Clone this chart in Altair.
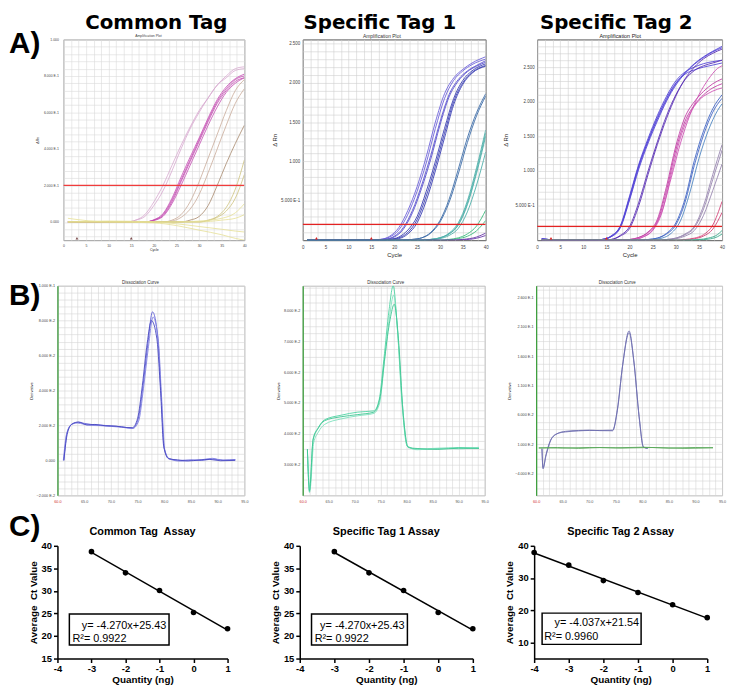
import altair as alt
import pandas as pd

FONT = "Liberation Sans"
HEAD_FONT = "DejaVu Sans"

# ------------------------------------------------------------------
# DATA
# ------------------------------------------------------------------
THRESHOLD = 0.2
BASELINE_MARKS = [3, 15]

# ---- A) amplification plots : knot cycles + delta-Rn values per curve ----
A1_MAUVE_CYC = [1, 14, 16, 18, 20, 22, 24, 26, 28, 30, 32, 34, 36, 38, 40]
A1_MAUVE = [[0, 0, 0.01, 0.04, 0.11, 0.2, 0.31, 0.42, 0.52, 0.61, 0.68, 0.75, 0.79, 0.83, 0.84],
            [0, 0, 0.01, 0.03, 0.09, 0.17, 0.28, 0.40, 0.51, 0.60, 0.68, 0.75, 0.80, 0.84, 0.85]]
A1_MAG_CYC = [1, 18, 20, 22, 24, 26, 28, 30, 32, 34, 36, 38, 40]
A1_MAG = [[0, 0, 0.01, 0.04, 0.12, 0.23, 0.34, 0.45, 0.56, 0.66, 0.73, 0.78, 0.80],
          [0, 0, 0.01, 0.035, 0.11, 0.22, 0.33, 0.44, 0.55, 0.65, 0.72, 0.77, 0.79],
          [0, 0, 0.012, 0.045, 0.13, 0.245, 0.355, 0.46, 0.57, 0.67, 0.74, 0.785, 0.81],
          [0, 0, 0.008, 0.03, 0.10, 0.20, 0.31, 0.42, 0.53, 0.63, 0.71, 0.76, 0.79]]
A1_TAN_CYC = [1, 22, 24, 26, 28, 30, 32, 34, 36, 38, 40]
A1_TAN = [[0, 0, 0.01, 0.04, 0.11, 0.22, 0.35, 0.48, 0.61, 0.72, 0.78],
          [0, 0, 0.005, 0.025, 0.07, 0.15, 0.27, 0.40, 0.53, 0.65, 0.73]]
A1_BROWN_CYC = [1, 26, 28, 30, 32, 34, 36, 38, 40]
A1_BROWN = [[0, 0, 0.01, 0.03, 0.09, 0.2, 0.32, 0.43, 0.53]]
A1_OLIVE_CYC = [1, 30, 32, 34, 36, 38, 40]
A1_OLIVE = [[0, 0, 0.01, 0.03, 0.08, 0.18, 0.34],
            [0, 0, 0.008, 0.025, 0.06, 0.13, 0.26]]
A1_YELLOW_CYC = [1, 10, 20, 25, 30, 35, 38, 40]
A1_YELLOW = [[0.02, 0, 0, 0, 0.005, 0.02, 0.05, 0.10],
             [0, 0, 0, 0, 0, 0.01, 0.02, 0.04],
             [0, 0.005, 0, -0.01, -0.025, -0.04, -0.05, -0.055],
             [0, 0, -0.005, -0.02, -0.045, -0.07, -0.09, -0.10]]

A2_G1_CYC = [1, 15, 17, 19, 21, 23, 25, 27, 29, 31, 33, 35, 37, 40]
A2_G1 = [[0, 0, 0.01, 0.05, 0.16, 0.38, 0.68, 1.06, 1.50, 1.86, 2.06, 2.17, 2.25, 2.33],
         [0, 0, 0.01, 0.04, 0.13, 0.33, 0.62, 0.98, 1.42, 1.80, 2.03, 2.15, 2.23, 2.30]]
A2_G1B_CYC = [1, 16, 18, 20, 22, 24, 26, 28, 30, 32, 34, 36, 38, 40]
A2_G1B = [[0, 0, 0.01, 0.05, 0.16, 0.38, 0.70, 1.08, 1.50, 1.85, 2.04, 2.15, 2.22, 2.28],
          [0, 0, 0.01, 0.04, 0.14, 0.35, 0.66, 1.03, 1.46, 1.82, 2.02, 2.14, 2.21, 2.26]]
A2_G2_CYC = [1, 17, 19, 21, 23, 25, 27, 29, 31, 33, 35, 37, 40]
A2_G2 = [[0, 0, 0.01, 0.04, 0.13, 0.30, 0.62, 1.00, 1.42, 1.80, 2.03, 2.15, 2.24],
         [0, 0, 0.01, 0.03, 0.10, 0.26, 0.56, 0.94, 1.36, 1.76, 2.00, 2.13, 2.22],
         [0, 0, 0.005, 0.02, 0.08, 0.22, 0.50, 0.88, 1.30, 1.72, 1.98, 2.12, 2.21]]
A2_STEEL_CYC = [1, 22, 24, 26, 28, 30, 32, 34, 36, 38, 40]
A2_STEEL = [[0, 0, 0.01, 0.03, 0.10, 0.25, 0.52, 0.90, 1.30, 1.62, 1.86],
            [0, 0, 0.01, 0.03, 0.09, 0.23, 0.48, 0.84, 1.24, 1.58, 1.83]]
A2_TEAL_CYC = [1, 26, 28, 30, 32, 34, 36, 38, 40]
A2_TEAL = [[0, 0, 0.01, 0.03, 0.09, 0.22, 0.50, 0.92, 1.40],
           [0, 0, 0.01, 0.03, 0.08, 0.19, 0.45, 0.85, 1.32],
           [0, 0, 0.01, 0.03, 0.08, 0.20, 0.47, 0.88, 1.36],
           [0, 0, 0.005, 0.02, 0.06, 0.15, 0.36, 0.70, 1.12]]
A2_GREEN_CYC = [1, 30, 32, 34, 36, 38, 40]
A2_GREEN = [[0, 0, 0.01, 0.03, 0.08, 0.18, 0.38],
            [0, 0, 0.005, 0.02, 0.05, 0.12, 0.25]]
A2_PURPLE_CYC = [1, 32, 35, 38, 40]
A2_PURPLE = [[0, 0, 0.01, 0.04, 0.09],
             [0, 0, 0.005, 0.025, 0.06]]

A3_G1_CYC = [1, 5, 12, 14, 16, 18, 20, 22, 24, 26, 28, 30, 32, 34, 36, 38, 40]
A3_G1 = [[0.02, 0, 0, 0.01, 0.06, 0.20, 0.62, 1.08, 1.43, 1.75, 2.03, 2.26, 2.42, 2.55, 2.65, 2.73, 2.80],
         [0.02, 0, 0, 0.01, 0.05, 0.18, 0.58, 1.03, 1.40, 1.72, 2.01, 2.24, 2.41, 2.54, 2.64, 2.72, 2.78],
         [0.02, 0, 0, 0.01, 0.06, 0.21, 0.64, 1.10, 1.47, 1.80, 2.08, 2.30, 2.43, 2.50, 2.55, 2.58, 2.60],
         [0.02, 0, 0, 0.01, 0.05, 0.19, 0.60, 1.06, 1.44, 1.77, 2.05, 2.27, 2.40, 2.46, 2.50, 2.53, 2.56]]
A3_G2_CYC = [1, 14, 16, 18, 20, 22, 24, 26, 28, 30, 32, 34, 36, 38, 40]
A3_G2 = [[0, 0, 0.01, 0.06, 0.17, 0.50, 0.95, 1.38, 1.76, 2.08, 2.33, 2.50, 2.62, 2.70, 2.76],
         [0, 0, 0.01, 0.07, 0.20, 0.55, 1.00, 1.42, 1.80, 2.10, 2.32, 2.45, 2.52, 2.56, 2.60]]
A3_MAG_CYC = [1, 18, 20, 22, 24, 26, 28, 30, 32, 34, 36, 38, 40]
A3_MAG = [[0, 0, 0.01, 0.04, 0.12, 0.30, 0.78, 1.36, 1.78, 2.00, 2.15, 2.26, 2.33],
          [0, 0, 0.01, 0.04, 0.11, 0.27, 0.72, 1.30, 1.72, 1.95, 2.10, 2.20, 2.26]]
A3_MAG2_CYC = [1, 19, 21, 23, 25, 27, 29, 31, 33, 35, 37, 39, 40]
A3_MAG2 = [[0, 0, 0.01, 0.05, 0.14, 0.40, 0.95, 1.48, 1.82, 2.02, 2.12, 2.18, 2.20],
           [0, 0, 0.01, 0.05, 0.15, 0.42, 0.90, 1.40, 1.80, 2.10, 2.32, 2.48, 2.52]]
A3_STEEL_CYC = [1, 22, 24, 26, 28, 30, 32, 34, 36, 38, 40]
A3_STEEL = [[0, 0, 0.01, 0.03, 0.10, 0.25, 0.60, 1.15, 1.58, 1.90, 2.10],
            [0, 0, 0.01, 0.03, 0.09, 0.22, 0.55, 1.08, 1.52, 1.85, 2.05]]
A3_STEEL2_CYC = [1, 23, 25, 27, 29, 31, 33, 35, 37, 39, 40]
A3_STEEL2 = [[0, 0, 0.01, 0.03, 0.10, 0.28, 0.68, 1.18, 1.58, 1.87, 1.97]]
A3_GREY_CYC = [1, 26, 28, 30, 32, 34, 36, 38, 40]
A3_GREY = [[0, 0, 0.01, 0.03, 0.09, 0.20, 0.50, 0.95, 1.38],
           [0, 0, 0.01, 0.03, 0.08, 0.18, 0.45, 0.88, 1.30],
           [0, 0, 0.005, 0.02, 0.06, 0.14, 0.36, 0.72, 1.10]]
A3_PINK_CYC = [1, 30, 32, 34, 36, 38, 40]
A3_PINK = [[0, 0, 0.01, 0.03, 0.08, 0.22, 0.56],
           [0, 0, 0.005, 0.02, 0.06, 0.16, 0.40]]
A3_TEAL_CYC = [1, 32, 35, 37, 39, 40]
A3_TEAL = [[0, 0, 0.01, 0.03, 0.08, 0.14],
           [0, 0, 0.005, 0.015, 0.05, 0.09]]

# ---- B) dissociation curves : temperature + derivative per curve ----
B1_T = [[61.2, 61.8, 62.7, 63.9, 65, 66.5, 68, 70, 72, 74.1, 75.1, 76, 76.9, 77.8, 78.8, 79.4, 80, 80.9, 83, 85, 87, 89, 91, 93.3],
        [61.1, 61.7, 62.6, 63.7, 65, 66.5, 68, 70, 72, 74.1, 75.2, 76.1, 77, 77.9, 78.9, 79.5, 80.1, 81, 83, 85, 87, 89, 91, 93.3],
        [61.2, 61.9, 62.8, 64, 65.5, 67, 69, 71, 73, 74, 75, 75.9, 76.8, 77.6, 78.6, 79.3, 79.9, 80.8, 82.5, 84.5, 86.5, 88.5, 90.5, 93.3]]
B1_V = [[0.0, 0.0157, 0.0207, 0.0218, 0.0212, 0.0205, 0.0202, 0.0198, 0.0192, 0.0185, 0.0235, 0.042, 0.066, 0.085, 0.070, 0.038, 0.0068, 0.001, 0.0, 0.0003, 0.0, 0.0008, 0.0002, 0.0005],
        [0.0, 0.015, 0.0205, 0.0214, 0.0207, 0.0200, 0.0199, 0.0195, 0.0190, 0.0183, 0.0225, 0.041, 0.064, 0.082, 0.068, 0.036, 0.006, 0.0008, -0.0004, 0.0, 0.0004, 0.0012, 0.0, 0.0004],
        [0.0, 0.016, 0.021, 0.022, 0.0203, 0.0206, 0.0198, 0.0196, 0.0188, 0.0187, 0.024, 0.043, 0.067, 0.080, 0.070, 0.040, 0.008, 0.001, 0.0003, -0.0003, 0.0002, 0.0006, -0.0002, 0.0]]
B2_T = [[60.9, 61.3, 62.0, 63, 64.2, 67.4, 70.6, 73.7, 74.7, 75.6, 76.6, 77.4, 78.2, 79.1, 80.1, 82, 86, 90, 93.9],
        [60.9, 61.4, 62.1, 63, 64.2, 67.4, 70.6, 73.7, 74.8, 75.7, 76.7, 77.5, 78.3, 79.2, 80.2, 82, 86, 90, 93.9],
        [60.9, 61.3, 62.0, 63, 64.2, 67.4, 70.6, 73.7, 74.9, 75.8, 76.8, 77.6, 78.4, 79.3, 80.3, 82, 86, 90, 93.9]]
B2_V = [[0.035, 0.021, 0.0383, 0.042, 0.0445, 0.046, 0.047, 0.0474, 0.051, 0.064, 0.080, 0.088, 0.0743, 0.050, 0.036, 0.035, 0.0352, 0.0355, 0.0354],
        [0.034, 0.022, 0.037, 0.0405, 0.043, 0.0448, 0.0458, 0.0466, 0.050, 0.063, 0.078, 0.085, 0.072, 0.049, 0.0358, 0.0348, 0.0353, 0.0351, 0.0356],
        [0.035, 0.0215, 0.038, 0.0418, 0.0442, 0.0455, 0.0462, 0.047, 0.052, 0.065, 0.077, 0.082, 0.071, 0.047, 0.0355, 0.0352, 0.0349, 0.0353, 0.0352]]
B3_T = [[61.1, 61.3, 61.8, 62.9, 64, 65.5, 68, 70, 72, 74.4, 75.3, 76.3, 77.5, 78.4, 79.4, 80.2, 81],
        [61.1, 61.3, 61.9, 63, 64.2, 65.5, 68, 70, 72, 74.4, 75.3, 76.3, 77.5, 78.4, 79.4, 80.2, 81]]
B3_V = [[0.002, -0.032, -0.01, 0.02, 0.028, 0.032, 0.0335, 0.034, 0.0332, 0.033, 0.068, 0.146, 0.203, 0.152, 0.057, 0.0055, 0.003],
        [0.003, -0.030, -0.008, 0.021, 0.029, 0.031, 0.0328, 0.0335, 0.0335, 0.034, 0.070, 0.145, 0.200, 0.150, 0.055, 0.005, 0.003]]
B3_NTC_T = [[60.5, 65, 70, 75, 80, 85, 90, 93.3],
            [60.5, 64, 68, 72, 76, 82, 88, 93.3]]
B3_NTC_V = [[0.004, 0.0035, 0.0045, 0.004, 0.005, 0.0035, 0.0045, 0.004],
            [0.0035, 0.0045, 0.003, 0.0045, 0.0035, 0.0045, 0.003, 0.0042]]

# ---- C) standard curves ----
C_QTY_TICKS = [-4, -3, -2, -1, 0, 1]
C1_Q = [-3, -2, -1, 0, 1]
C1_CT = [38.7, 34.0, 30.1, 25.2, 21.6]
C2_Q = [-3, -2, -1, 0, 1]
C2_CT = [38.7, 34.0, 30.1, 25.2, 21.6]
C3_Q = [-4, -3, -2, -1, 0, 1]
C3_CT = [37.9, 34.0, 29.2, 25.5, 21.7, 17.7]
C1_EQ = ["y= -4.270x+25.43", "R\u00b2= 0.9922"]
C2_EQ = ["y= -4.270x+25.43", "R\u00b2= 0.9922"]
C3_EQ = ["y= -4.037x+21.54", "R\u00b2= 0.9960"]
# equation box corners and text anchors, in data units (qty, Ct)
C1_BOX = [-3.65, -0.72, 18.0, 24.9]
C2_BOX = [-3.66, -0.89, 18.0, 24.9]
C3_BOX = [-3.77, -0.91, 9.4, 19.1]
C1_TXT = [(-0.80, 21.6), (-3.56, 18.7)]
C2_TXT = [(-0.97, 21.6), (-3.57, 18.7)]
C3_TXT = [(-0.97, 15.0), (-3.71, 10.9)]

# ------------------------------------------------------------------
ONE = pd.DataFrame({"a": [0]})


def steps(a, b, s):
    n = int(round((b - a) / s))
    return [round(a + i * s, 6) for i in range(n + 1)]


def major(step, off=0.0):
    return (f"abs((datum.value - ({off})) / {step} - round((datum.value - ({off})) / {step})) < 0.01")


SCI = ("(datum.value == 0 ? '0.000' : (abs(datum.value) >= 1 ? format(datum.value, '.3f') : "
       "(abs(datum.value) >= 0.1 ? format(datum.value * 10, '.3f') + ' E-1' : "
       "format(datum.value * 100, '.3f') + ' E-2')))")


def curves_df(groups):
    rows = []
    cid = 0
    for color, xs_list, vs_list in groups:
        for xs, vs in zip(xs_list, vs_list):
            for x, v in zip(xs, vs):
                rows.append({"x": x, "y": v, "id": cid, "col": color})
            cid += 1
    return pd.DataFrame(rows)


def txt(text, x, y, size, weight="normal", align="center", color="black", font=FONT):
    return alt.Chart(ONE).mark_text(text=text, fontSize=size, fontWeight=weight, align=align,
                                    color=color, font=font, baseline="alphabetic").encode(
        x=alt.value(x), y=alt.value(y))


def spacer(w, h):
    return alt.Chart(ONE).mark_point(opacity=0, size=1).encode(
        x=alt.value(0), y=alt.value(0)).properties(
        width=w, height=h, view=alt.ViewBackground(stroke="transparent"))


def qpcr_panel(groups, w, h, xdom, xgrid, xfmt, ydom, ygrid, ymajor, ymajor_off, ytitle, xtitle,
               frame, gridc, lab, ttl, lpx, tpx, lpy, tpy, lw=0.9, ydomain_color=None,
               xlabel_color="#444", thr=None, marks=None, extra=()):
    df = curves_df(groups)
    xax = alt.Axis(values=xgrid, labelExpr=f"{major(5)} ? format(datum.value, '{xfmt}') : ''",
                   grid=True, gridColor=gridc, gridWidth=0.6, ticks=False, domain=False,
                   labelFontSize=lab, labelColor=xlabel_color, labelFont=FONT, labelOverlap=False,
                   labelFlush=False, labelPadding=lpx, title=xtitle, titleFontSize=ttl,
                   titleFontWeight="normal", titleColor="#222", titlePadding=tpx, titleFont=FONT)
    yargs = dict(values=ygrid, labelExpr=f"{major(ymajor, ymajor_off)} ? {SCI} : ''",
                 grid=True, gridColor=gridc, gridWidth=0.6, ticks=False,
                 labelFontSize=lab, labelColor="#444", labelFont=FONT, labelOverlap=False,
                 labelFlush=False, labelPadding=lpy, title=ytitle, titleFontSize=ttl,
                 titleFontWeight="normal", titleColor="#222", titlePadding=tpy, titleFont=FONT)
    if ydomain_color:
        yargs.update(domain=True, domainColor=ydomain_color, domainWidth=1.3)
    else:
        yargs.update(domain=False)
    yax = alt.Axis(**yargs)
    xs = alt.Scale(domain=xdom, nice=False, zero=False)
    ys = alt.Scale(domain=ydom, nice=False, zero=False)
    lines = alt.Chart(df).mark_line(interpolate="monotone", strokeWidth=lw, clip=True).encode(
        x=alt.X("x:Q", scale=xs, axis=xax),
        y=alt.Y("y:Q", scale=ys, axis=yax),
        color=alt.Color("col:N", scale=None),
        detail="id:N",
    )
    layers = [lines]
    if thr:
        tdf = pd.DataFrame({"x": [xdom[0], xdom[1]], "y": [THRESHOLD, THRESHOLD], "id": [-1, -1],
                            "col": [thr[0], thr[0]]})
        layers.append(alt.Chart(tdf).mark_line(strokeWidth=thr[1], clip=True).encode(
            x=alt.X("x:Q", scale=xs, axis=xax), y=alt.Y("y:Q", scale=ys, axis=yax),
            color=alt.Color("col:N", scale=None), detail="id:N"))
    if marks:
        layers.append(alt.Chart(pd.DataFrame({"x": BASELINE_MARKS})).mark_point(
            shape="triangle-up", filled=True, size=8, opacity=1).encode(
            x=alt.X("x:Q", scale=xs, axis=xax), y=alt.value(h - 2), color=alt.value(marks)))
    layers.extend(extra)
    return alt.layer(*layers).properties(
        width=w, height=h, view=alt.ViewBackground(stroke=frame, strokeWidth=1))


# ------------------------------------------------------------------
# Row A
AW = [183, 185, 187]
AH = 203
A1_GROUPS = [("#d6a8cf", [A1_MAUVE_CYC] * 2, A1_MAUVE),
             ("#c34cb2", [A1_MAG_CYC] * 4, A1_MAG),
             ("#c9aa98", [A1_TAN_CYC] * 2, A1_TAN),
             ("#a6876a", [A1_BROWN_CYC], A1_BROWN),
             ("#cdc27e", [A1_OLIVE_CYC] * 2, A1_OLIVE),
             ("#e6df95", [A1_YELLOW_CYC] * 4, A1_YELLOW)]
A2_GROUPS = [("#6d62da", [A2_G1_CYC] * 2, A2_G1),
             ("#5a52cf", [A2_G1B_CYC] * 2, A2_G1B),
             ("#3b3fb3", [A2_G2_CYC] * 3, A2_G2),
             ("#3d6ca8", [A2_STEEL_CYC] * 2, A2_STEEL),
             ("#4fb0aa", [A2_TEAL_CYC] * 4, A2_TEAL),
             ("#3cba7c", [A2_GREEN_CYC] * 2, A2_GREEN),
             ("#6a38a8", [A2_PURPLE_CYC] * 2, A2_PURPLE)]
A3_GROUPS = [("#5345d6", [A3_G1_CYC] * 4, A3_G1),
             ("#5a30b4", [A3_G2_CYC] * 2, A3_G2),
             ("#c23fa6", [A3_MAG_CYC] * 2, A3_MAG),
             ("#cf55b4", [A3_MAG2_CYC] * 2, A3_MAG2),
             ("#4266c4", [A3_STEEL_CYC] * 2, A3_STEEL),
             ("#4f86c2", [A3_STEEL2_CYC], A3_STEEL2),
             ("#9886b0", [A3_GREY_CYC] * 3, A3_GREY),
             ("#d44478", [A3_PINK_CYC] * 2, A3_PINK),
             ("#3aa88a", [A3_TEAL_CYC] * 2, A3_TEAL)]

XG = steps(0, 40, 5 / 3)
HEAD = dict(size=20, weight="bold", font=HEAD_FONT)

a1 = qpcr_panel(A1_GROUPS, AW[0], AH, [0, 40], XG, "d", [-0.1, 1.0], steps(-0.08, 1.0, 0.04), 0.2, 0,
                "\u0394Rn", "Cycle", "#9a9a9a", "#dadada", 3.5, 3.5, 3, 1, 5, 4, lw=0.8,
                thr=("#f03c3c", 1.2), marks="#7a4a4a",
                extra=[txt("Common Tag", 94, -11, **HEAD),
                       txt("Amplification Plot", 86, -2, 3.5, color="#444"),
                       txt("A)", -55, 14, 30, "bold", align="left")])
a2 = qpcr_panel(A2_GROUPS, AW[1], AH, [0, 40], XG, "d", [0, 2.55], steps(0.1, 2.5, 0.1), 0.5, 0,
                "\u0394 Rn", "Cycle", "#555555", "#cfcfcf", 4.5, 6, 4, 3, 3, 3,
                thr=("#e32222", 1.3), marks="#e02020",
                extra=[txt("Specific Tag 1", 78, -11, **HEAD),
                       txt("Amplification Plot", 80, -1.5, 5, color="#333")])
a3 = qpcr_panel(A3_GROUPS, AW[2], AH, [0, 40], XG, "d", [0, 2.9], steps(0.1, 2.8, 0.1), 0.5, 0,
                "\u0394 Rn", "Cycle", "#555555", "#cfcfcf", 4.5, 6, 4, 3, 3, 6,
                thr=("#e32222", 1.3), marks="#e02020",
                extra=[txt("Specific Tag 2", 80, -11, **HEAD),
                       txt("Amplification Plot", 84, -1.5, 5.5, color="#222")])

rowA = alt.hconcat(spacer(6, AH), a1, spacer(59, 1), a2, spacer(52, 1), a3, spacing=0, bounds="flush")

# Row B
BW = [189, 184, 188]
BH = 212
BXG = steps(60, 95, 1.25)
BLAB = {"condition": {"test": "datum.value == 60", "value": "#d03030"}, "value": "#555555"}
B1_GROUPS = [("#5c5cd4", B1_T[:1], B1_V[:1]), ("#8080e2", B1_T[1:2], B1_V[1:2]),
             ("#4848c2", B1_T[2:], B1_V[2:])]
B2_GROUPS = [("#4fd3a2", B2_T[:1], B2_V[:1]), ("#7ee0bd", B2_T[1:2], B2_V[1:2]),
             ("#3cc592", B2_T[2:], B2_V[2:])]
B3_GROUPS = [("#6f6fb0", B3_T, B3_V), ("#5aa85a", B3_NTC_T, B3_NTC_V)]

b1 = qpcr_panel(B1_GROUPS, BW[0], BH, [60, 95], BXG, ".1f", [-0.02, 0.1], steps(-0.02, 0.1, 0.004), 0.02, 0,
                "Derivative", "", "#bbbbbb", "#d4d4d4", 3.8, 4, 4, 1, 3, 3, lw=0.9,
                ydomain_color="#3fa03f", xlabel_color=BLAB,
                extra=[txt("Dissociation Curve", 84, -2, 4.5, color="#333"),
                       txt("B)", -49, 20, 30, "bold", align="left")])
b2 = qpcr_panel(B2_GROUPS, BW[1], BH, [60, 95], BXG, ".1f", [0.02, 0.088], steps(0.0225, 0.0875, 0.0025), 0.01, 0,
                "Derivative", "", "#bbbbbb", "#d4d4d4", 3.8, 4, 4, 1, 3, 3, lw=0.9,
                ydomain_color="#3fa03f", xlabel_color=BLAB,
                extra=[txt("Dissociation Curve", 84, -2, 4.5, color="#333")])
b3 = qpcr_panel(B3_GROUPS, BW[2], BH, [60, 95], BXG, ".1f", [-0.077, 0.28], steps(-0.0775, 0.2725, 0.0125), 0.05, 0.01,
                "Derivative", "", "#bbbbbb", "#d4d4d4", 3.8, 4, 4, 1, 3, 3, lw=0.9,
                ydomain_color="#3fa03f", xlabel_color=BLAB,
                extra=[txt("Dissociation Curve", 82, -2, 4.5, color="#333")])

rowB = alt.hconcat(b1, spacer(59, 1), b2, spacer(52, 1), b3, spacing=0, bounds="flush")


# Row C
def std_panel(q, ct, w, h, ydom, yvals, title, eq, box, tpos, label=None):
    df = pd.DataFrame({"q": q, "ct": ct})
    xs = alt.Scale(domain=[-4, 1], nice=False, zero=False)
    ys = alt.Scale(domain=ydom, nice=False, zero=False)
    common = dict(grid=False, domainColor="black", domainWidth=1.5, tickColor="black", tickWidth=1.5,
                  tickSize=4, labelFontSize=9.5, labelFontWeight="bold", labelColor="black",
                  labelFont=FONT, titleFont=FONT, titleFontSize=10, titleFontWeight="bold",
                  titleColor="black", labelOverlap=False, labelFlush=False,
                  labelExpr="datum.value + ''")
    xax = alt.Axis(values=C_QTY_TICKS, title="Quantity (ng)", labelPadding=1, titlePadding=2, **common)
    yax = alt.Axis(values=yvals, title="Average\u00a0 Ct Value", labelPadding=2, titlePadding=3, **common)
    X = lambda f: alt.X(f, scale=xs, axis=xax)
    Y = lambda f: alt.Y(f, scale=ys, axis=yax)
    pts = alt.Chart(df).mark_circle(size=32, color="black", opacity=1).encode(x=X("q:Q"), y=Y("ct:Q"))
    reg = alt.Chart(df).transform_regression("q", "ct").mark_line(
        color="black", strokeWidth=1.5).encode(x=X("q:Q"), y=Y("ct:Q"))
    bdf = pd.DataFrame({"x1": [box[0]], "x2": [box[1]], "y1": [box[2]], "y2": [box[3]]})
    rect = alt.Chart(bdf).mark_rect(fill="white", stroke="black", strokeWidth=1.5).encode(
        x=X("x1:Q"), x2="x2:Q", y=Y("y1:Q"), y2="y2:Q")
    tdf = pd.DataFrame({"x": [tpos[0][0], tpos[1][0]], "y": [tpos[0][1], tpos[1][1]], "t": eq})
    t1 = alt.Chart(tdf.iloc[[0]]).mark_text(align="right", fontSize=11, font=FONT, baseline="alphabetic").encode(
        x=X("x:Q"), y=Y("y:Q"), text="t:N")
    t2 = alt.Chart(tdf.iloc[[1]]).mark_text(align="left", fontSize=11, font=FONT, baseline="alphabetic").encode(
        x=X("x:Q"), y=Y("y:Q"), text="t:N")
    layers = [pts, rect, reg, t1, t2, txt(title, w / 2, -11, 11, "bold")]
    if label:
        layers.append(txt(label, -49, -10, 30, "bold", align="left"))
    return alt.layer(*layers).properties(width=w, height=h, view=alt.ViewBackground(stroke="transparent"))


CH = 114
c1 = std_panel(C1_Q, C1_CT, 172, CH, [15, 40], [15, 20, 25, 30, 35, 40], "Common Tag\u00a0 Assay",
               C1_EQ, C1_BOX, C1_TXT, label="C)")
c2 = std_panel(C2_Q, C2_CT, 175, CH, [15, 40], [15, 20, 25, 30, 35, 40], "Specific Tag 1 Assay",
               C2_EQ, C2_BOX, C2_TXT)
c3 = std_panel(C3_Q, C3_CT, 175, CH, [5, 40], [10, 20, 30, 40], "Specific Tag 2 Assay",
               C3_EQ, C3_BOX, C3_TXT)

rowC = alt.hconcat(c1, spacer(73, 1), c2, spacer(62, 1), c3, spacing=0, bounds="flush")

chart = alt.vconcat(rowA, spacer(1, 19), rowB, spacer(1, 5), rowC, spacing=0).properties(
    padding=0, background="white").configure(font=FONT).configure_view(stroke="transparent")

chart.save("out.html", embed_options={"renderer": "svg", "actions": False})
